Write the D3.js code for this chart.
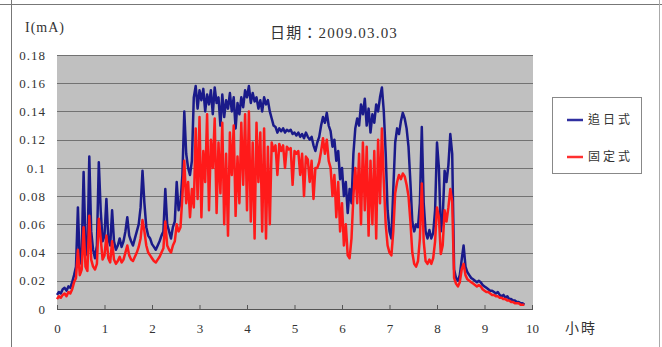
<!DOCTYPE html>
<html>
<head>
<meta charset="utf-8">
<script src="https://cdn.jsdelivr.net/npm/d3@7"></script>
<style>
  body { margin: 0; background: #fff; }
  svg { display: block; }
  text { fill: #333; }
</style>
</head>
<body>
<svg id="chart" width="662" height="347"></svg>
<script>
// Photovoltaic current (mA), one reading every 0.04 h, starting at hour 0
const sampleStepHours = 0.04;

// Sun-tracking panel (追日式)
const trackingCurrent = [
  0.010,0.012,0.011,0.014,0.015,0.013,0.016,0.015,0.019,0.024,
  0.030,0.072,0.032,0.040,0.097,0.045,0.038,0.108,0.055,0.042,
  0.036,0.045,0.104,0.070,0.048,0.052,0.078,0.050,0.045,0.070,
  0.048,0.042,0.045,0.050,0.044,0.048,0.055,0.065,0.052,0.048,
  0.045,0.050,0.055,0.060,0.072,0.098,0.075,0.058,0.052,0.050,
  0.046,0.044,0.042,0.045,0.048,0.052,0.055,0.085,0.060,0.055,
  0.050,0.058,0.062,0.090,0.070,0.075,0.095,0.140,0.110,0.100,
  0.095,0.105,0.150,0.158,0.142,0.155,0.148,0.156,0.140,0.152,
  0.145,0.155,0.138,0.157,0.146,0.150,0.130,0.152,0.136,0.148,
  0.142,0.153,0.140,0.150,0.128,0.146,0.138,0.150,0.143,0.155,
  0.150,0.158,0.146,0.153,0.147,0.150,0.142,0.148,0.140,0.150,
  0.145,0.148,0.140,0.135,0.130,0.129,0.125,0.128,0.126,0.128,
  0.125,0.127,0.126,0.127,0.124,0.125,0.123,0.125,0.122,0.124,
  0.121,0.125,0.122,0.120,0.122,0.116,0.112,0.118,0.122,0.130,
  0.136,0.132,0.139,0.130,0.126,0.115,0.120,0.105,0.112,0.092,
  0.100,0.080,0.090,0.068,0.085,0.075,0.110,0.128,0.135,0.130,
  0.145,0.138,0.149,0.130,0.142,0.125,0.138,0.132,0.145,0.140,
  0.150,0.157,0.140,0.110,0.070,0.055,0.050,0.085,0.118,0.128,
  0.124,0.133,0.139,0.135,0.128,0.115,0.090,0.062,0.055,0.060,
  0.058,0.075,0.129,0.075,0.055,0.050,0.056,0.050,0.054,0.070,
  0.118,0.100,0.055,0.065,0.098,0.090,0.102,0.124,0.110,0.028,
  0.022,0.020,0.024,0.035,0.045,0.030,0.026,0.024,0.022,0.021,
  0.020,0.019,0.020,0.019,0.017,0.016,0.015,0.014,0.013,0.013,
  0.012,0.011,0.012,0.010,0.009,0.010,0.008,0.009,0.007,0.007,
  0.006,0.006,0.005,0.005,0.004,0.004,0.003
];

// Fixed panel (固定式)
const fixedCurrent = [
  0.007,0.009,0.008,0.010,0.011,0.009,0.012,0.011,0.014,0.019,
  0.022,0.042,0.024,0.028,0.058,0.030,0.027,0.066,0.035,0.030,
  0.028,0.032,0.064,0.050,0.035,0.038,0.052,0.036,0.033,0.048,
  0.035,0.032,0.034,0.037,0.033,0.035,0.040,0.045,0.038,0.035,
  0.034,0.037,0.040,0.044,0.050,0.063,0.055,0.045,0.040,0.038,
  0.036,0.034,0.033,0.035,0.037,0.040,0.043,0.062,0.045,0.042,
  0.040,0.045,0.048,0.060,0.055,0.058,0.080,0.105,0.075,0.090,
  0.065,0.085,0.072,0.128,0.078,0.136,0.065,0.112,0.090,0.138,
  0.070,0.120,0.100,0.135,0.068,0.118,0.082,0.132,0.060,0.110,
  0.052,0.125,0.095,0.130,0.066,0.108,0.075,0.132,0.088,0.138,
  0.070,0.140,0.062,0.118,0.050,0.132,0.090,0.125,0.055,0.128,
  0.050,0.115,0.060,0.118,0.112,0.116,0.095,0.117,0.112,0.116,
  0.100,0.115,0.113,0.114,0.088,0.112,0.110,0.112,0.095,0.110,
  0.080,0.108,0.106,0.090,0.105,0.078,0.100,0.100,0.104,0.112,
  0.121,0.110,0.120,0.105,0.100,0.080,0.095,0.065,0.090,0.055,
  0.075,0.045,0.060,0.038,0.036,0.050,0.080,0.100,0.075,0.110,
  0.060,0.118,0.070,0.115,0.052,0.105,0.060,0.112,0.050,0.120,
  0.075,0.128,0.090,0.060,0.045,0.040,0.038,0.055,0.082,0.090,
  0.095,0.092,0.096,0.094,0.088,0.080,0.062,0.040,0.032,0.030,
  0.034,0.050,0.089,0.048,0.034,0.032,0.035,0.032,0.036,0.048,
  0.072,0.065,0.039,0.045,0.070,0.062,0.072,0.085,0.076,0.022,
  0.018,0.016,0.019,0.028,0.032,0.024,0.021,0.020,0.019,0.018,
  0.017,0.016,0.017,0.016,0.014,0.013,0.012,0.012,0.011,0.010,
  0.010,0.009,0.009,0.008,0.008,0.007,0.007,0.006,0.006,0.005,
  0.005,0.004,0.004,0.004,0.003,0.003,0.003
];

const xTickValues = [0, 1, 2, 3, 4, 5, 6, 7, 8, 9, 10];
const yTickValues = [0, 0.02, 0.04, 0.06, 0.08, 0.1, 0.12, 0.14, 0.16, 0.18];
const seriesNames = ["追日式", "固定式"];

const titleText = "日期：2009.03.03";
const yAxisTitle = "I(mA)";
const xAxisTitle = "小時";

const colors = { tracking: "#1a1a8a", fixed: "#ff1a1a" };
const serif = "'Liberation Serif', 'Noto Sans CJK TC', serif";

const svg = d3.select("#chart");

// Frame around the chart cell
const frame = svg.append("g").attr("stroke", "#777").attr("stroke-width", 1);
frame.append("line").attr("x1", 0).attr("x2", 662).attr("y1", 4.5).attr("y2", 4.5);
frame.append("line").attr("x1", 11.5).attr("x2", 11.5).attr("y1", 0).attr("y2", 347);
frame.append("line").attr("x1", 659.5).attr("x2", 659.5).attr("y1", 0).attr("y2", 347).attr("stroke", "#aaa");

const plot = { left: 57, right: 533, top: 55, bottom: 309 };

const x = d3.scaleLinear().domain([0, 10]).range([plot.left, 532]);
const y = d3.scaleLinear().domain([0, 0.18]).range([plot.bottom, plot.top]);

// Plot background
svg.append("rect")
  .attr("x", plot.left).attr("y", plot.top)
  .attr("width", plot.right - plot.left).attr("height", plot.bottom - plot.top)
  .attr("fill", "#c0c0c0");

// Horizontal gridlines
svg.append("g").selectAll("line")
  .data(yTickValues.filter(v => v > 0))
  .join("line")
  .attr("x1", plot.left).attr("x2", plot.right)
  .attr("y1", d => Math.round(y(d)) + 0.5).attr("y2", d => Math.round(y(d)) + 0.5)
  .attr("stroke", "#727272").attr("stroke-width", 1);

// Y axis labels
const yAxis = svg.append("g")
  .attr("transform", `translate(${plot.left},0)`)
  .call(d3.axisLeft(y).tickValues(yTickValues).tickSize(0).tickPadding(11).tickFormat(d => String(d)));
yAxis.select(".domain").remove();
yAxis.selectAll("text")
  .attr("font-family", serif).attr("font-size", 13).attr("letter-spacing", 1).attr("fill", "#333");

// X axis
const xAxis = svg.append("g")
  .attr("transform", `translate(0,${plot.bottom})`)
  .call(d3.axisBottom(x).tickValues(xTickValues).tickSizeInner(-4).tickSizeOuter(0).tickPadding(15));
xAxis.select(".domain").attr("d", `M${plot.left},0.5H${plot.right}`).attr("stroke", "#555");
xAxis.selectAll(".tick line").attr("stroke", "#555");
xAxis.selectAll("text")
  .attr("font-family", serif).attr("font-size", 13).attr("fill", "#333");

// Series lines
const line = d3.line()
  .x((d, i) => x(i * sampleStepHours))
  .y(d => y(d))
  .curve(d3.curveLinear);

svg.append("path")
  .datum(trackingCurrent)
  .attr("d", line)
  .attr("fill", "none")
  .attr("stroke", colors.tracking)
  .attr("stroke-width", 2.5)
  .attr("stroke-linejoin", "round");

svg.append("path")
  .datum(fixedCurrent)
  .attr("d", line)
  .attr("fill", "none")
  .attr("stroke", colors.fixed)
  .attr("stroke-width", 2.5)
  .attr("stroke-linejoin", "round");

// Titles
svg.append("text")
  .attr("x", 25).attr("y", 32)
  .attr("font-family", serif).attr("font-size", 14).attr("letter-spacing", 1)
  .text(yAxisTitle);

svg.append("text")
  .attr("x", 334).attr("y", 38)
  .attr("text-anchor", "middle")
  .attr("font-family", serif).attr("font-size", 15).attr("letter-spacing", 1.2)
  .text(titleText);

svg.append("text")
  .attr("x", 565).attr("y", 333)
  .attr("font-family", serif).attr("font-size", 14).attr("letter-spacing", 2)
  .text(xAxisTitle);

// Legend
const legend = svg.append("g");
legend.append("rect")
  .attr("x", 552.5).attr("y", 97.5).attr("width", 89).attr("height", 76)
  .attr("fill", "#fff").attr("stroke", "#888");

const legendItems = [
  { name: seriesNames[0], color: "#3030a0", y: 120 },
  { name: seriesNames[1], color: "#ff3030", y: 157 }
];
const items = legend.selectAll("g.item").data(legendItems).join("g").attr("class", "item");
items.append("line")
  .attr("x1", 567).attr("x2", 583)
  .attr("y1", d => d.y).attr("y2", d => d.y)
  .attr("stroke", d => d.color).attr("stroke-width", 2.5);
items.append("text")
  .attr("x", 588).attr("y", d => d.y)
  .attr("dominant-baseline", "central")
  .attr("font-family", serif).attr("font-size", 12).attr("letter-spacing", 3)
  .text(d => d.name);
</script>
</body>
</html>
